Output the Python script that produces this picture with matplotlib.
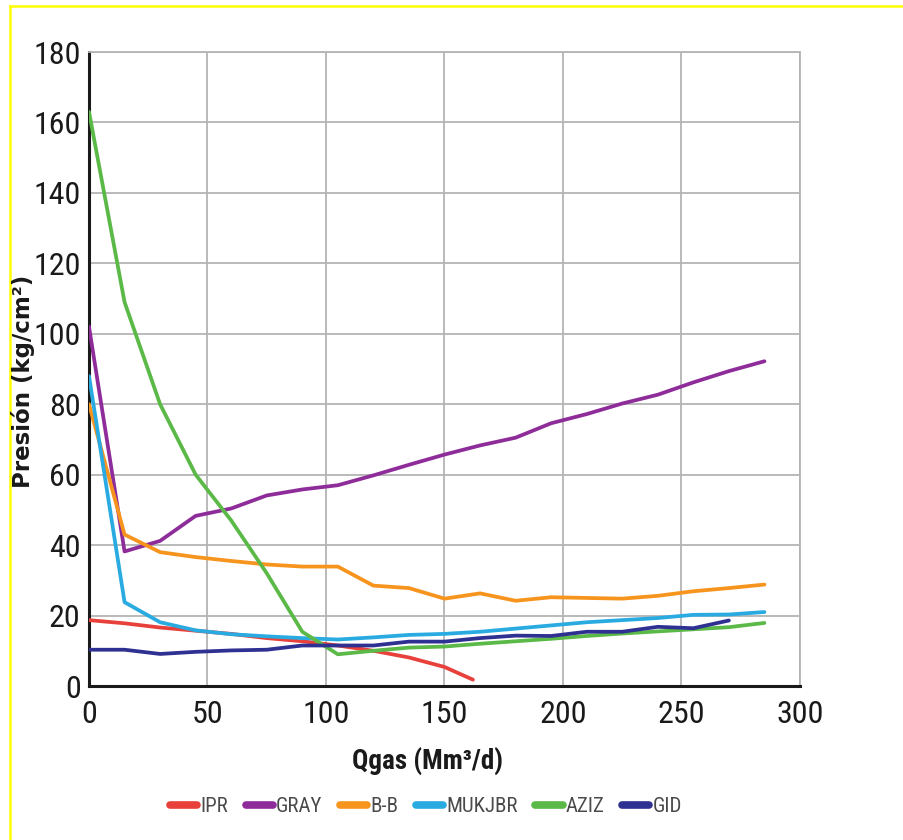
import matplotlib
matplotlib.use("Agg")
import matplotlib.pyplot as plt
from matplotlib.lines import Line2D
from matplotlib import font_manager as fm

# ---- data ----
q_std = [0, 15, 30, 45, 60, 75, 90, 105, 120, 135, 150, 165, 180, 195, 210, 225, 240, 255, 270, 285]
q_ipr = [0, 15, 30, 45, 60, 75, 90, 105, 120, 135, 150, 162]
q_gid = [0, 15, 30, 45, 60, 75, 90, 105, 120, 135, 150, 165, 180, 195, 210, 225, 240, 255, 270]

ipr = [18.7, 17.8, 16.6, 15.7, 14.8, 13.6, 12.7, 11.5, 10.0, 8.1, 5.4, 1.8]
gray = [102, 38.2, 41.2, 48.3, 50.4, 54.1, 55.8, 57.0, 59.8, 62.8, 65.7, 68.3, 70.5, 74.6, 77.2, 80.2, 82.7, 86.2, 89.4, 92.2]
bb = [80, 43.0, 38.0, 36.6, 35.5, 34.5, 33.9, 33.9, 28.5, 27.8, 24.8, 26.3, 24.2, 25.2, 25.0, 24.8, 25.6, 26.9, 27.8, 28.8]
mukjbr = [88, 23.8, 18.1, 15.8, 14.7, 14.1, 13.6, 13.2, 13.8, 14.5, 14.8, 15.4, 16.3, 17.2, 18.1, 18.7, 19.3, 20.2, 20.3, 21.0]
aziz = [163, 109, 80, 60, 47, 32, 15.4, 9.0, 10.0, 10.9, 11.2, 12.0, 12.7, 13.4, 14.2, 14.9, 15.5, 16.1, 16.7, 17.9]
gid = [10.3, 10.3, 9.1, 9.7, 10.1, 10.3, 11.5, 11.5, 11.5, 12.6, 12.6, 13.6, 14.3, 14.2, 15.4, 15.4, 16.8, 16.4, 18.6]

labels = ["IPR", "GRAY", "B-B", "MUKJBR", "AZIZ", "GID"]
colors = ["#E8413C", "#8E2C9A", "#F7941D", "#29ABE2", "#5BB947", "#2E3192"]

xticks = [0, 50, 100, 150, 200, 250, 300]
yticks = [0, 20, 40, 60, 80, 100, 120, 140, 160, 180]

installed = {f.name for f in fm.fontManager.ttflist}


def pick(prefs):
    for p in prefs:
        if p in installed:
            return [p, "DejaVu Sans"]
    return ["DejaVu Sans"]


narrow = pick(["Roboto Condensed", "Archivo Narrow", "Fira Sans Condensed", "PT Sans Narrow",
               "IBM Plex Sans Condensed", "Barlow Semi Condensed", "Encode Sans Condensed",
               "Open Sans Condensed", "Liberation Sans Narrow"])

fig = plt.figure(figsize=(9.04, 8.4), dpi=100)
fig.patch.set_facecolor("white")
ax = fig.add_axes([89 / 904, 1 - 686 / 840, (800 - 89) / 904, (686 - 52) / 840])

series = [(q_ipr, ipr), (q_std, gray), (q_std, bb), (q_std, mukjbr), (q_std, aziz), (q_gid, gid)]
handles = []
for (xs, ys), lab, col in zip(series, labels, colors):
    h, = ax.plot(xs, ys, color=col, lw=2.7, label=lab, solid_capstyle="round",
                 solid_joinstyle="round", zorder=3)
    handles.append(h)

ax.set_xlim(0, 300)
ax.set_ylim(0, 180)
ax.set_xticks(xticks)
ax.set_yticks(yticks)
ax.grid(True, color="#b4b4b4", lw=1.3, zorder=0)
ax.set_axisbelow(True)
for s in ["top", "right"]:
    ax.spines[s].set_color("#b4b4b4")
    ax.spines[s].set_linewidth(1.3)
for s in ["left", "bottom"]:
    ax.spines[s].set_color("#1a1a1a")
    ax.spines[s].set_linewidth(2.2)
ax.tick_params(axis="y", length=0, pad=6, colors="#1a1a1a")
ax.tick_params(axis="x", length=0, pad=10, colors="#1a1a1a")
for lbl in ax.get_xticklabels() + ax.get_yticklabels():
    lbl.set_family(narrow)
    lbl.set_fontsize(23)
    lbl.set_color("#1a1a1a")

fig.text(428 / 904, 1 - 762 / 840, "Qgas (Mm³/d)", family=narrow, fontweight="bold",
         fontsize=19.5, ha="center", va="center", color="#1a1a1a")
fig.text(23 / 904, 1 - 381 / 840, "Presión (kg/cm²)", family=["DejaVu Sans"], fontweight="bold",
         fontsize=16.5, ha="center", va="center", rotation=90, color="#1a1a1a")

leg = fig.legend(handles=handles, labels=labels, loc="center", ncol=6,
                 bbox_to_anchor=(426 / 904, 1 - 807 / 840), frameon=False,
                 prop={"family": narrow, "size": 15}, handlelength=1.3,
                 handletextpad=0.15, columnspacing=0.85)
for t in leg.get_texts():
    t.set_color("#4a4a4a")
for lh in leg.get_lines():
    lh.set_linewidth(5.5)
    lh.set_solid_capstyle("round")

# yellow frame lines (top and left)
fig.add_artist(Line2D([10 / 904, 1], [1 - 6 / 840, 1 - 6 / 840], color="#FFFF00", lw=1.8,
                      transform=fig.transFigure))
fig.add_artist(Line2D([10 / 904, 10 / 904], [0, 1 - 6 / 840], color="#FFFF00", lw=1.8,
                      transform=fig.transFigure))

fig.savefig("out.png", dpi=100, facecolor="white")
